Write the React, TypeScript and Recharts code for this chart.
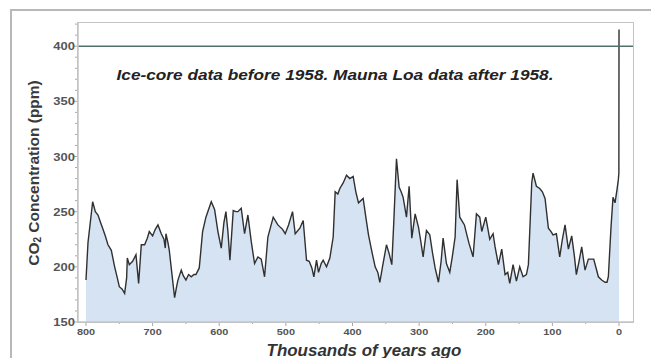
import React from "react";
import { ComposedChart, Area, XAxis, YAxis, ReferenceLine } from "recharts";

const ages: number[] = [
  800, 797, 790, 786, 782, 778, 775, 771, 767, 762, 757, 753, 750, 746, 742, 739, 738, 735, 730, 725,
  721, 717, 712, 708, 705, 700, 696, 692, 687, 683, 681, 680, 677, 675, 670, 667, 664, 662, 657, 654,
  650, 646, 642, 638, 635, 630, 625, 620, 612, 607, 602, 597, 593, 590, 587, 584, 579, 575, 572, 567,
  562, 557, 552, 547, 542, 537, 532, 527, 519, 512, 505, 501, 496, 490, 486, 479, 474, 469, 465, 461,
  458, 454, 451, 447, 444, 439, 434, 429, 426, 422, 419, 414, 409, 404, 399, 395, 391, 384, 380, 376,
  371, 366, 362, 359, 355, 349, 345, 341, 338, 334, 330, 327, 324, 319, 315, 311, 306, 301, 298, 294,
  289, 284, 280, 276, 271, 267, 264, 259, 254, 250, 246, 243, 239, 232, 228, 225, 219, 214, 209, 206,
  200, 197, 194, 189, 186, 181, 176, 171, 167, 164, 159, 154, 149, 144, 139, 136, 131, 129, 124, 119,
  115, 111, 106, 102, 99, 94, 89, 85, 81, 76, 71, 67, 64, 60, 56, 51, 46, 38, 34, 31,
  26, 21, 18, 16, 12, 9, 6, 3, 1, 0.2, 0,
];

const co2: number[] = [
  188, 222, 259, 250, 247, 240, 235, 228, 220, 215, 200, 190, 182, 180, 176, 190, 208, 202, 205, 211,
  185, 220, 220, 226, 232, 228, 234, 238, 230, 225, 217, 230, 222, 215, 188, 172, 182, 188, 197, 192,
  188, 193, 191, 193, 193, 199, 232, 245, 259, 252, 232, 217, 240, 250, 232, 206, 251, 250, 250, 253,
  230, 247, 223, 203, 209, 207, 191, 227, 245, 238, 234, 230, 238, 250, 230, 235, 242, 206, 205, 199,
  191, 206, 195, 203, 206, 200, 208, 227, 268, 266, 271, 276, 283, 280, 282, 268, 258, 262, 245, 229,
  214, 200, 195, 186, 200, 220, 212, 202, 241, 298, 272, 268, 263, 245, 273, 226, 248, 236, 225, 209,
  233, 229, 213, 199, 186, 205, 226, 203, 195, 210, 227, 279, 245, 238, 228, 221, 209, 248, 245, 232,
  245, 235, 225, 230, 218, 202, 216, 193, 195, 185, 202, 187, 200, 191, 193, 202, 276, 285, 273, 271,
  268, 262, 235, 232, 229, 230, 209, 225, 238, 216, 228, 210, 193, 205, 218, 197, 207, 207, 198, 191,
  188, 186, 186, 191, 236, 263, 258, 270, 279, 285, 415,
];

const xTicks: number[] = [800, 700, 600, 500, 400, 300, 200, 100, 0];
const yMajorTicks: number[] = [150, 200, 250, 300, 350, 400];
const yMinorTicks: number[] = [150, 160, 170, 180, 190, 200, 210, 220, 230, 240, 250, 260, 270, 280, 290, 300, 310, 320, 330, 340, 350, 360, 370, 380, 390, 400, 410, 420];
const xMinorTicks: number[] = [800, 750, 700, 650, 600, 550, 500, 450, 400, 350, 300, 250, 200, 150, 100, 50, 0];

const data = ages.map((a, i) => ({ age: a, co2: co2[i] }));

const FONT = "Arial, 'Liberation Sans', sans-serif";
const FRAME = "#c4c4c4";
const TICK = "#a8a8a8";
const LABEL = "#555555";

const LeftTick = (props: any) => {
  const { x, y, payload } = props;
  const major = yMajorTicks.includes(payload.value);
  return (
    <g>
      <line x1={x} x2={x - (major ? 5 : 3)} y1={y} y2={y} stroke={TICK} strokeWidth={1} />
      {major && (
        <text
          transform={`translate(${x - 3},${y + 4}) scale(1.18,1)`}
          textAnchor="end"
          fontFamily={FONT}
          fontWeight="bold"
          fontSize={11}
          fill={LABEL}
        >
          {payload.value}
        </text>
      )}
    </g>
  );
};

const BottomTick = (props: any) => {
  const { x, y, payload } = props;
  const major = xTicks.includes(payload.value);
  return (
    <g>
      <line x1={x} x2={x} y1={y} y2={y + (major ? 4 : 2)} stroke={TICK} strokeWidth={1} />
      {major && (
        <text
          transform={`translate(${x},${y + 12.5}) scale(1.15,1)`}
          textAnchor="middle"
          fontFamily={FONT}
          fontWeight="bold"
          fontSize={9.5}
          fill={LABEL}
        >
          {payload.value}
        </text>
      )}
    </g>
  );
};

export default function App() {
  return (
    <div style={{ position: "absolute", left: 0, top: 0, width: 651, height: 358, background: "#fff", overflow: "hidden" }}>
      <div
        style={{
          position: "absolute",
          left: 10,
          top: 9,
          width: 660,
          height: 360,
          borderTop: "2px solid #b8b8b8",
          borderLeft: "2px solid #b8b8b8",
        }}
      />
      <ComposedChart
        width={651}
        height={358}
        data={data}
        margin={{ top: 23, right: 18, bottom: 0, left: 38 }}
        style={{ position: "absolute", left: 0, top: 0 }}
      >
        <XAxis
          dataKey="age"
          type="number"
          domain={[-21, 812]}
          reversed
          allowDataOverflow
          ticks={xMinorTicks}
          interval={0}
          height={36}
          tickSize={0}
          tickMargin={0}
          tick={<BottomTick />}
          axisLine={{ stroke: FRAME, strokeWidth: 1.5 }}
          tickLine={false}
        />
        <YAxis
          type="number"
          domain={[150, 421]}
          allowDataOverflow
          ticks={yMinorTicks}
          interval={0}
          width={40}
          tickSize={0}
          tickMargin={0}
          tick={<LeftTick />}
          axisLine={{ stroke: FRAME, strokeWidth: 1.5 }}
          tickLine={false}
        />
        <Area
          type="linear"
          dataKey="co2"
          baseValue={150}
          stroke="#303030"
          strokeWidth={1.4}
          fill="#d5e3f3"
          fillOpacity={1}
          isAnimationActive={false}
          dot={false}
          activeDot={false}
        />
        <ReferenceLine y={400} stroke="#52706a" strokeWidth={1.5} />
        <text
          x={33}
          y={173}
          transform="rotate(-90 33 173)"
          textAnchor="middle"
          dominantBaseline="central"
          fontFamily={FONT}
          fontWeight="bold"
          fontSize={15.5}
          fill="#3a3a3a"
        >
          CO
          <tspan fontSize={10} dy={4}>2</tspan>
          <tspan dy={-4}> Concentration (ppm)</tspan>
        </text>
        <text
          transform="translate(335,80) scale(1.15,1)"
          textAnchor="middle"
          fontFamily={FONT}
          fontWeight="bold"
          fontStyle="italic"
          fontSize={15}
          fill="#222"
        >
          Ice-core data before 1958. Mauna Loa data after 1958.
        </text>
        <text
          transform="translate(364,356) scale(1.06,1)"
          textAnchor="middle"
          fontFamily={FONT}
          fontWeight="bold"
          fontStyle="italic"
          fontSize={16}
          fill="#333"
        >
          Thousands of years ago
        </text>
      </ComposedChart>
      <div
        style={{
          position: "absolute",
          left: 77,
          top: 22,
          width: 557,
          height: 301,
          border: "1.5px solid #c4c4c4",
          boxSizing: "border-box",
          pointerEvents: "none",
        }}
      />
    </div>
  );
}
